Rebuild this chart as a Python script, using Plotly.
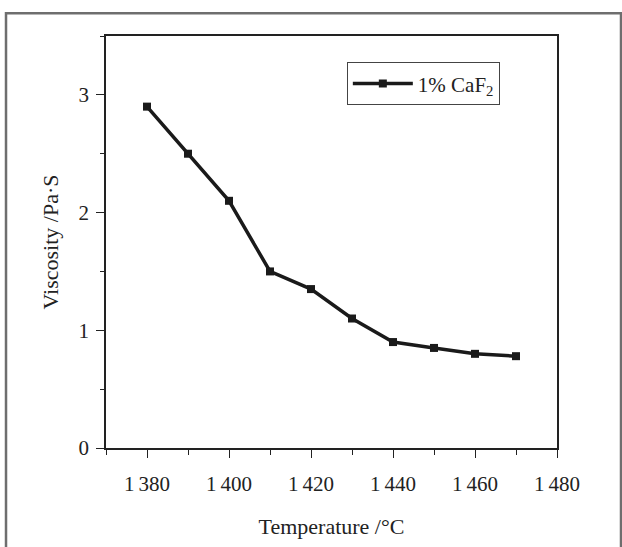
import plotly.graph_objects as go

temperature = [1380, 1390, 1400, 1410, 1420, 1430, 1440, 1450, 1460, 1470]
viscosity = [2.9, 2.5, 2.1, 1.5, 1.35, 1.1, 0.9, 0.85, 0.8, 0.78]
series_name = "1% CaF<sub>2</sub>"
x_tickvals = [1380, 1400, 1420, 1440, 1460, 1480]
x_ticktext = ["1\u2009380", "1\u2009400", "1\u2009420", "1\u2009440", "1\u2009460", "1\u2009480"]
y_tickvals = [0, 1, 2, 3]

FONT = "Liberation Serif"

fig = go.Figure()
fig.add_trace(go.Scatter(
    x=temperature, y=viscosity, name=series_name, mode="lines+markers",
    line=dict(color="#1a1a1a", width=3.5),
    marker=dict(symbol="square", size=8, color="#1a1a1a"),
    showlegend=True,
))

fig.update_layout(
    width=622, height=547,
    margin=dict(l=106, r=65, t=36, b=99),
    paper_bgcolor="white", plot_bgcolor="white",
    font=dict(family=FONT, size=21, color="#222"),
    showlegend=True,
    legend=dict(x=0.534, y=0.936, xanchor="left", yanchor="top",
                bordercolor="#444", borderwidth=1, bgcolor="white",
                font=dict(family=FONT, size=21, color="#222"),
                itemwidth=60, tracegroupgap=0),
    xaxis=dict(range=[1370, 1480], tickvals=x_tickvals, ticktext=x_ticktext,
               ticks="outside", ticklen=8, tickcolor="#222", tickwidth=1,
               minor=dict(dtick=10, tick0=1370, ticks="outside", ticklen=5, tickcolor="#222"),
               showline=True, linecolor="#222", linewidth=1.5, mirror=True,
               showgrid=False, zeroline=False, ticklabelstandoff=8, automargin=False,
               title=dict(text="Temperature /°C", standoff=24, font=dict(size=22)),
               tickfont=dict(size=21)),
    yaxis=dict(range=[0, 3.5], tickvals=y_tickvals,
               ticks="outside", ticklen=8, tickcolor="#222", tickwidth=1,
               minor=dict(dtick=0.5, tick0=0, ticks="outside", ticklen=4, tickcolor="#222"),
               showline=True, linecolor="#222", linewidth=1.5, mirror=True,
               showgrid=False, zeroline=False, ticklabelstandoff=3, automargin=False,
               title=dict(text="Viscosity /Pa·S", standoff=14, font=dict(size=22)),
               tickfont=dict(size=21)),
)

fig.add_shape(type="rect", xref="paper", yref="paper",
              x0=-0.2217, x1=1.1419, y0=-0.35, y1=1.055,
              line=dict(color="#6e6e6e", width=2.5), layer="below")

fig.write_html("out.html")
